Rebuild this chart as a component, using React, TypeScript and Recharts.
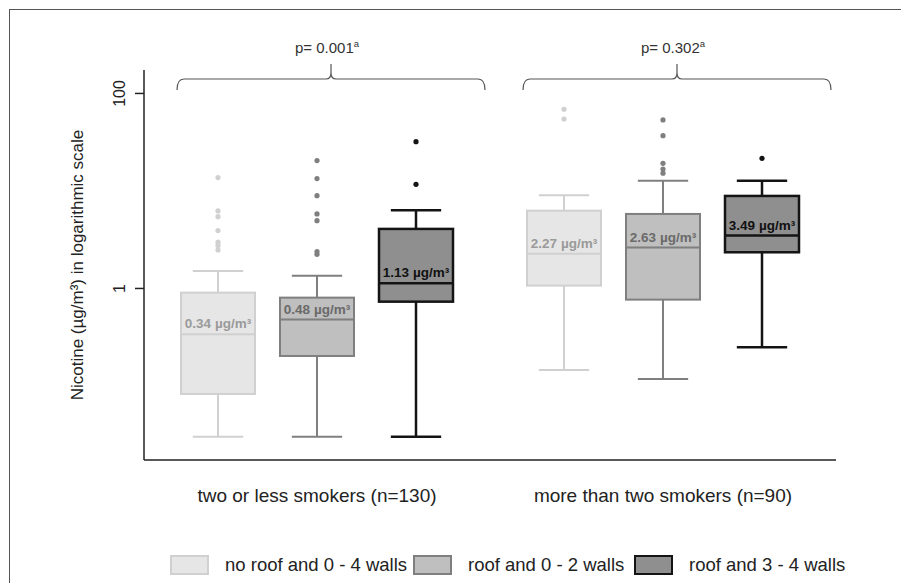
import React from "react";
import { BarChart, Bar, XAxis, YAxis } from "recharts";

// groups on the x axis
const categories = ["two or less smokers (n=130)", "more than two smokers (n=90)"];
// housing type series
const seriesNames = ["no roof and 0 - 4 walls", "roof and 0 - 2 walls", "roof and 3 - 4 walls"];
const pValues = ["0.001", "0.302"];
const yTicks = [1, 100];

// box statistics, [series][group], µg/m³
const lowerWhisker = [
  [0.0302, 0.146],
  [0.0302, 0.118],
  [0.0302, 0.249],
];
const q1 = [
  [0.0828, 1.07],
  [0.203, 0.768],
  [0.732, 2.35],
];
const medians = [
  [0.34, 2.27],
  [0.48, 2.63],
  [1.13, 3.49],
];
const q3 = [
  [0.906, 6.28],
  [0.805, 5.81],
  [4.08, 8.89],
];
const upperWhisker = [
  [1.51, 9.03],
  [1.35, 12.7],
  [6.34, 12.7],
];
const outliers = [
  [
    [13.7, 6.24, 5.45, 3.92, 2.98, 2.75, 2.48],
    [68.9, 54.7],
  ],
  [
    [20.5, 13.4, 8.95, 5.81, 4.96, 2.39, 2.24],
    [53.5, 36.9, 19.2, 16.8, 15.2],
  ],
  [
    [32, 11.7],
    [21.6],
  ],
];

const FONT = '"Liberation Sans", Arial, sans-serif';
const fills = ["#e6e6e6", "#bfbfbf", "#8f8f8f"];
const strokes = ["#d0d0d0", "#7f7f7f", "#141414"];
const strokeWidths = [2, 2, 2.5];
const labelColors = ["#9a9a9a", "#6a6a6a", "#111111"];

const data = categories.map((name, c) => ({
  name,
  s0: [q1[0][c], q3[0][c]],
  s1: [q1[1][c], q3[1][c]],
  s2: [q1[2][c], q3[2][c]],
}));

function makeBoxShape(s: number) {
  return (props: any) => {
    const { x, y, width, height } = props;
    let c = props.index;
    if (c === undefined || c === null) c = categories.indexOf(props.payload?.name);
    const hi = Math.log10(q3[s][c]);
    const lo = Math.log10(q1[s][c]);
    // position on the log axis, from the bar's own q1..q3 extent
    const py = (v: number) => y + (height * (hi - Math.log10(v))) / (hi - lo);
    const cx = x + width / 2;
    const capW = width * 0.34;
    const st = strokes[s];
    const sw = strokeWidths[s];
    const med = py(medians[s][c]);
    return (
      <g>
        <line x1={cx} x2={cx} y1={py(upperWhisker[s][c])} y2={y} stroke={st} strokeWidth={sw} />
        <line x1={cx} x2={cx} y1={y + height} y2={py(lowerWhisker[s][c])} stroke={st} strokeWidth={sw} />
        <line x1={cx - capW} x2={cx + capW} y1={py(upperWhisker[s][c])} y2={py(upperWhisker[s][c])} stroke={st} strokeWidth={sw} />
        <line x1={cx - capW} x2={cx + capW} y1={py(lowerWhisker[s][c])} y2={py(lowerWhisker[s][c])} stroke={st} strokeWidth={sw} />
        <rect x={x} y={y} width={width} height={height} fill={fills[s]} stroke={st} strokeWidth={sw} />
        <line x1={x} x2={x + width} y1={med} y2={med} stroke={st} strokeWidth={sw} />
        <text x={cx} y={med - 6} textAnchor="middle" fontFamily={FONT} fontWeight="bold" fontSize={13.5} fill={labelColors[s]}>
          {medians[s][c].toFixed(2)} µg/m³
        </text>
        {outliers[s][c].map((v, i) => (
          <circle key={i} cx={cx} cy={py(v)} r={2.6} fill={st} />
        ))}
        {s === 1 && (
          <g>
            <path
              d={`M${cx - 140},90 Q${cx - 140},79 ${cx - 133},79 L${cx + 9},79 Q${cx + 14},79 ${cx + 14},73 L${cx + 14},64 M${cx + 14},73 Q${cx + 14},79 ${cx + 19},79 L${cx + 161},79 Q${cx + 168},79 ${cx + 168},90`}
              fill="none"
              stroke="#555"
              strokeWidth={1.2}
            />
            <text x={cx + 10} y={53} textAnchor="middle" fontFamily={FONT} fontSize={15} fill="#333">
              p= {pValues[c]}
              <tspan fontSize={9.5} dy={-6}>a</tspan>
            </text>
          </g>
        )}
      </g>
    );
  };
}

const YTick = (props: any) => {
  const { x, y, payload } = props;
  const tx = x - 15;
  return (
    <text x={tx} y={y} transform={`rotate(-90, ${tx}, ${y})`} textAnchor="middle" dominantBaseline="central" fontFamily={FONT} fontSize={16} fill="#222">
      {payload.value}
    </text>
  );
};

const XTick = (props: any) => {
  const { x, y, payload } = props;
  return (
    <text x={x} y={y + 42} textAnchor="middle" fontFamily={FONT} fontSize={19} fill="#222">
      {payload.value}
    </text>
  );
};

const legendLeft = [170, 413, 634];

export default function App() {
  return (
    <div style={{ position: "absolute", left: 0, top: 0, width: 901, height: 583, background: "#fff", overflow: "hidden" }}>
      <div style={{ position: "absolute", left: 9, top: 9, width: 892, height: 574, borderTop: "1.5px solid #555", borderLeft: "1.5px solid #555" }} />
      <BarChart
        width={901}
        height={583}
        data={data}
        margin={{ top: 70, right: 65, left: 0, bottom: 83 }}
        barSize={74}
        barGap={25}
        style={{ position: "absolute", left: 0, top: 0 }}
      >
        <XAxis
          dataKey="name"
          tickLine={false}
          tickSize={0}
          tickMargin={0}
          height={40}
          axisLine={{ stroke: "#222", strokeWidth: 1.5 }}
          tick={<XTick />}
          interval={0}
        />
        <YAxis
          type="number"
          scale="log"
          domain={[0.0174, 174]}
          ticks={yTicks}
          width={144}
          tickSize={9}
          tickMargin={0}
          tickLine={{ stroke: "#222", strokeWidth: 1.5 }}
          axisLine={{ stroke: "#222", strokeWidth: 1.5 }}
          tick={<YTick />}
          label={(p: any) => {
            const vb = p.viewBox || { y: 70, height: 390 };
            const cy = vb.y + vb.height / 2;
            return (
              <text x={77} y={cy} transform={`rotate(-90, 77, ${cy})`} textAnchor="middle" dominantBaseline="central" fontFamily={FONT} fontSize={17} fill="#222">
                Nicotine (µg/m³) in logarithmic scale
              </text>
            );
          }}
        />
        {seriesNames.map((n, s) => (
          <Bar key={n} dataKey={`s${s}`} name={n} isAnimationActive={false} shape={makeBoxShape(s)} />
        ))}
      </BarChart>
      {seriesNames.map((n, s) => (
        <div key={n} style={{ position: "absolute", left: legendLeft[s], top: 555, height: 20, display: "flex", alignItems: "center", fontFamily: FONT, fontSize: 18.5, color: "#222", whiteSpace: "nowrap" }}>
          <span style={{ display: "inline-block", boxSizing: "border-box", width: 39, height: 20, background: fills[s], border: `${strokeWidths[s]}px solid ${strokes[s]}`, marginRight: 16 }} />
          {n}
        </div>
      ))}
    </div>
  );
}
